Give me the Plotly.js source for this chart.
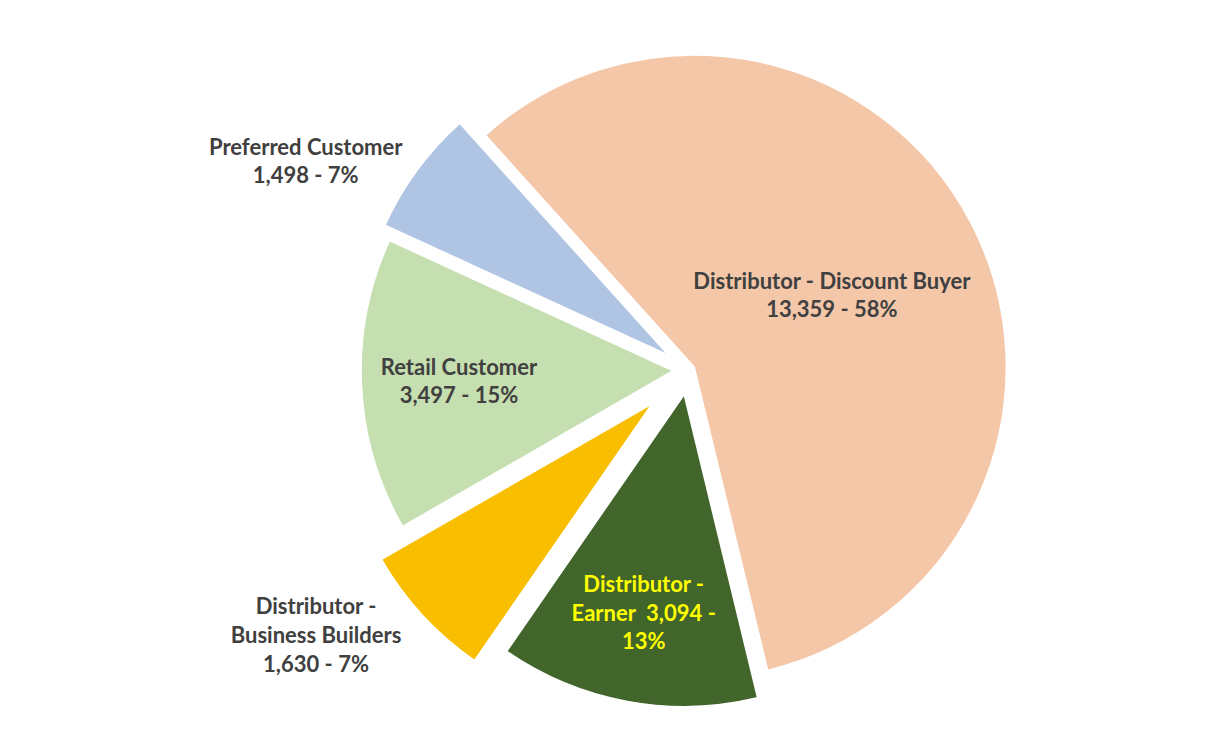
<!DOCTYPE html>
<html>
<head>
<meta charset="utf-8">
<script src="https://cdn.plot.ly/plotly-3.0.1.min.js"></script>
<style>html,body{margin:0;padding:0;background:#fff;}#chart{width:1232px;height:740px;}</style>
</head>
<body>
<div id="chart"></div>
<script>
const categories = ["Distributor - Discount Buyer", "Distributor - Earner", "Distributor - Business Builders", "Retail Customer", "Preferred Customer"];
const values = [13359, 3094, 1630, 3497, 1498];
const percentLabels = ["58%", "13%", "7%", "15%", "7%"];
const colors = ["#F4C7A8", "#41652A", "#F9BE00", "#C5DFB0", "#B0C4E3"];
const pulls = [0.02, 0.08, 0.16, 0.05, 0.08];
const textColors = ["#404040", "#FFFF00", "#404040", "#404040", "#404040"];
const textPositions = ["inside", "inside", "outside", "inside", "outside"];

const texts = values.map((v, i) => {
  const num = v.toLocaleString("en-US");
  const pct = percentLabels[i];
  if (i === 1) return "Distributor -<br>Earner  " + num + " -<br>" + pct;
  if (i === 2) return "Distributor -<br>Business Builders<br>" + num + " - " + pct;
  return categories[i] + "<br>" + num + " - " + pct;
});

const trace = {
  type: "pie",
  labels: categories,
  values: values,
  text: texts,
  textinfo: "text",
  hoverinfo: "label+value",
  sort: false,
  direction: "clockwise",
  rotation: -42,
  pull: pulls,
  marker: { colors: colors, line: { color: "#ffffff", width: 1.5 } },
  textposition: textPositions,
  insidetextorientation: "horizontal",
  textfont: { family: "Lato, 'Open Sans', sans-serif", size: 22, color: textColors, weight: "bold" },
  outsidetextfont: { family: "Lato, 'Open Sans', sans-serif", size: 22, color: "#404040", weight: "bold" },
  domain: { x: [0.12, 1.0], y: [0.0, 1.0] },
  automargin: false
};

const layout = {
  width: 1232,
  height: 740,
  margin: { l: 10, r: 10, t: 8, b: 8 },
  showlegend: false,
  paper_bgcolor: "#ffffff",
  font: { family: "Lato, 'Open Sans', sans-serif", color: "#404040" }
};

Plotly.newPlot("chart", [trace], layout, { displayModeBar: false, staticPlot: true });
</script>
</body>
</html>
